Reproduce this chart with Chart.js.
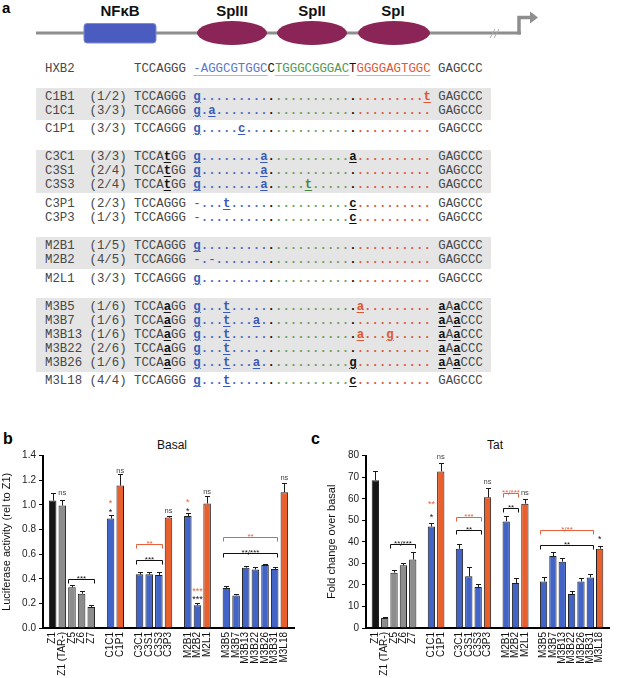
<!DOCTYPE html>
<html><head><meta charset="utf-8">
<title>LTR variants</title>
<script src="https://cdn.jsdelivr.net/npm/chart.js@4.4.1/dist/chart.umd.min.js"></script>
<style>
html,body{margin:0;padding:0;background:#fff;}
#page{position:relative;width:625px;height:678px;overflow:hidden;font-family:"Liberation Sans",Arial,Helvetica,sans-serif;}
.box{position:absolute;left:36px;width:455px;background:#e5e5e5;}
.row{position:absolute;left:45px;height:14px;font-family:"Liberation Mono","Courier New",monospace;font-size:12.37px;line-height:14px;white-space:pre;color:#474747;}
.row b{font-weight:bold;text-decoration:underline;text-underline-offset:2px;text-decoration-thickness:1px;}
.row i{font-style:normal;font-weight:bold;}
.cb{color:#3a5ab8}.cg{color:#468a40}.cr{color:#dc5632}.ck{color:#111}
.db{color:#4a69c4}.dg{color:#6a9e5c}.dr{color:#e0583a}.dk{color:#111}
.hb{color:#5a78cc;text-decoration:underline;text-decoration-color:#a8b6e2;text-underline-offset:3px}
.hg{color:#4f9a4f;text-decoration:underline;text-decoration-color:#a9cfa4;text-underline-offset:3px}
.hr{color:#e0583a;text-decoration:underline;text-decoration-color:#f0ab98;text-underline-offset:3px}
.lbl{position:absolute;font-weight:bold;font-size:16px;line-height:16px;color:#000}
.ttl{position:absolute;font-size:12px;line-height:14px;color:#111;transform:translateX(-50%);white-space:nowrap}
canvas{position:absolute}
</style>
</head>
<body>
<div id="page">
<svg width="625" height="50" style="position:absolute;left:0;top:0" xmlns="http://www.w3.org/2000/svg">
  <text x="2" y="13" font-family="Liberation Sans, Arial" font-weight="bold" font-size="15">a</text>
  <line x1="36" y1="33" x2="521" y2="33" stroke="#8e8e8e" stroke-width="3"/>
  <rect x="84" y="23.5" width="72" height="19.5" rx="3" fill="#4a5cbf" stroke="#7b8ad8" stroke-width="1"/>
  <ellipse cx="232" cy="33" rx="35" ry="12" fill="#8b2457"/>
  <ellipse cx="312" cy="33" rx="35" ry="12" fill="#8b2457"/>
  <ellipse cx="394" cy="33" rx="36" ry="12" fill="#8b2457"/>
  <line x1="490" y1="38" x2="495" y2="29" stroke="#a8a8a8" stroke-width="1"/>
  <line x1="494" y1="38" x2="499" y2="29" stroke="#a8a8a8" stroke-width="1"/>
  <path d="M519 34.5 V17.5 H531" stroke="#8e8e8e" stroke-width="3.5" fill="none"/>
  <polygon points="530,11.5 538,17.5 530,23.5" fill="#8e8e8e"/>
  <g font-family="Liberation Sans, Arial" font-weight="bold" font-size="15" text-anchor="middle" fill="#111">
    <text x="120" y="15.5">NFκB</text>
    <text x="232" y="15.5">SpIII</text>
    <text x="312" y="15.5">SpII</text>
    <text x="393" y="15.5">SpI</text>
  </g>
</svg>
<div id="align"></div>

<div class="lbl" style="left:3px;top:431px">b</div>
<div class="lbl" style="left:311px;top:431px">c</div>
<div class="ttl" style="left:172px;top:438px">Basal</div>
<div class="ttl" style="left:495px;top:438px">Tat</div>

<canvas id="chartB" width="310" height="248" style="left:0;top:430px"></canvas>
<canvas id="chartC" width="315" height="248" style="left:310px;top:430px"></canvas>
</div>

<script>
// ---------------- Panel a: alignment data ----------------
const refName = "HXB2";
const refPrefix = "TCCAGGG";
const refSegments = ["-AGGCGTGGC", "C", "TGGGCGGGAC", "T", "GGGGAGTGGC"];
const refSuffix = "GAGCCC";

const alignNames  = ["C1B1","C1C1","C1P1","C3C1","C3S1","C3S3","C3P1","C3P3","M2B1","M2B2","M2L1","M3B5","M3B7","M3B13","M3B22","M3B26","M3L18"];
const alignCounts = ["(1/2)","(3/3)","(3/3)","(3/3)","(2/4)","(2/4)","(2/3)","(1/3)","(1/5)","(4/5)","(3/3)","(1/6)","(1/6)","(1/6)","(2/6)","(1/6)","(4/4)"];
const alignPrefix = ["TCCAGGG","TCCAGGG","TCCAGGG","TCCAtGG","TCCAtGG","TCCAtGG","TCCAGGG","TCCAGGG","TCCAGGG","TCCAGGG","TCCAGGG","TCCAaGG","TCCAaGG","TCCAaGG","TCCAaGG","TCCAaGG","TCCAGGG"];
// substitutions in the 32-nt Sp/NF-kB stretch: [position, base]
const alignChanges = [
  [[0,"g"],[31,"t"]],
  [[0,"g"],[2,"a"]],
  [[0,"g"],[6,"c"]],
  [[0,"g"],[9,"a"],[21,"a"]],
  [[0,"g"],[9,"a"]],
  [[0,"g"],[9,"a"],[15,"t"]],
  [[0,"-"],[4,"t"],[21,"c"]],
  [[0,"-"],[21,"c"]],
  [[0,"g"]],
  [[0,"-"],[2,"-"]],
  [[0,"g"]],
  [[0,"g"],[4,"t"],[22,"a"]],
  [[0,"g"],[4,"t"],[8,"a"]],
  [[0,"g"],[4,"t"],[22,"a"],[26,"g"]],
  [[0,"g"],[4,"t"]],
  [[0,"g"],[4,"t"],[8,"a"],[21,"g"]],
  [[0,"g"],[4,"t"],[21,"c"]]
];
const alignSuffix = ["GAGCCC","GAGCCC","GAGCCC","GAGCCC","GAGCCC","GAGCCC","GAGCCC","GAGCCC","GAGCCC","GAGCCC","GAGCCC","aAaCCC","aAaCCC","aAaCCC","aAaCCC","aAaCCC","GAGCCC"];

// layout of panel a (pixel centres of rows, shaded blocks)
const refRowY = 68.5;
const rowY = [96.5,110.5,128.5,157,171,185,203.5,217.5,246,260,278.5,306.5,320.5,334.5,348.5,362.5,381];
const shade = [[88.3,120],[149.7,193],[237.3,269],[297.7,371.7]];

(function buildAlignment(){
  const host = document.getElementById("align");
  let html = "";
  shade.forEach(([t,b]) => { html += `<div class="box" style="top:${t}px;height:${b-t}px"></div>`; });
  const esc = s => s.replace(/&/g,"&amp;").replace(/</g,"&lt;");
  const lowerBold = s => s.split("").map(c => /[a-z]/.test(c) ? `<b class="ck">${c}</b>` : esc(c)).join("");
  html += `<div class="row" style="top:${refRowY-7}px">${refName.padEnd(12," ")}${refPrefix} ` +
    `<span class="hb">${refSegments[0]}</span><span class="ck">${refSegments[1]}</span>` +
    `<span class="hg">${refSegments[2]}</span><span class="ck">${refSegments[3]}</span>` +
    `<span class="hr">${refSegments[4]}</span> ${refSuffix}</div>`;
  const region = p => p < 10 ? "b" : p === 10 ? "k" : p < 21 ? "g" : p === 21 ? "k" : "r";
  alignNames.forEach((nm, i) => {
    const ch = {};
    alignChanges[i].forEach(([p, b]) => { ch[p] = b; });
    let core = "";
    for (let p = 0; p < 32; p++) {
      const r = region(p);
      if (ch[p] === undefined) core += `<i class="d${r}">.</i>`;
      else if (ch[p] === "-") core += `<span class="c${r}">-</span>`;
      else core += `<b class="c${r}">${ch[p]}</b>`;
    }
    html += `<div class="row" style="top:${rowY[i]-7}px">${nm.padEnd(6," ")}${alignCounts[i]} ${lowerBold(alignPrefix[i])} ${core} ${lowerBold(alignSuffix[i])}</div>`;
  });
  host.innerHTML = html;
})();

// ---------------- Panels b, c: bar data ----------------
const categories = ["Z1","Z1 (TAR-)","Z5","Z6","Z7","C1C1","C1P1","C3C1","C3S1","C3S3","C3P3","M2B1","M2B2","M2L1","M3B5","M3B7","M3B13","M3B22","M3B26","M3B31","M3L18"];
const groupSizes = [5,2,4,3,7];

const basalValues = [1.035,0.995,0.331,0.279,0.170,0.890,1.157,0.436,0.436,0.431,0.897,0.910,0.185,1.012,0.325,0.265,0.490,0.475,0.511,0.480,1.103];
const basalErrors = [0.062,0.046,0.016,0.018,0.018,0.025,0.093,0.018,0.018,0.020,0.011,0.026,0.020,0.062,0.016,0.010,0.010,0.020,0.012,0.015,0.077];

const tatValues = [68.6,4.7,25.7,29.1,31.8,47.1,72.7,36.8,24.0,19.0,60.7,49.5,20.9,57.7,21.6,33.4,30.8,15.8,21.6,23.5,36.8];
const tatErrors = [4.5,0.3,1.3,1.2,3.6,1.6,4.1,2.2,4.4,1.2,4.5,2.7,2.1,2.0,1.9,1.8,1.8,1.2,1.6,1.8,1.4];

const basalTicks = [0.0,0.2,0.4,0.6,0.8,1.0,1.2,1.4];
const tatTicks = [0,10,20,30,40,50,60,70,80];

const basalBrackets = [
  {from:"Z5",   to:"Z7",    y:0.396, text:"***",    red:false},
  {from:"C3C1", to:"C3S3",  y:0.556, text:"***",    red:false},
  {from:"C3C1", to:"C3S3",  y:0.686, text:"**",     red:true},
  {from:"M3B5", to:"M3B31", y:0.610, text:"**/***", red:false},
  {from:"M3B5", to:"M3B31", y:0.740, text:"**",     red:true}
];
const basalMarks = [
  {at:"Z1 (TAR-)", y:1.095, text:"ns",  red:false},
  {at:"C1C1",      y:0.955, text:"*",   red:false},
  {at:"C1C1",      y:1.027, text:"*",   red:true},
  {at:"C1P1",      y:1.279, text:"ns",  red:false},
  {at:"C3P3",      y:0.954, text:"ns",  red:false},
  {at:"M2B1",      y:0.965, text:"*",   red:false},
  {at:"M2B1",      y:1.035, text:"*",   red:true},
  {at:"M2B2",      y:0.246, text:"***", red:false},
  {at:"M2B2",      y:0.315, text:"***", red:true},
  {at:"M2L1",      y:1.108, text:"ns",  red:false},
  {at:"M3L18",     y:1.217, text:"ns",  red:false}
];
const tatBrackets = [
  {from:"Z5",   to:"Z7",    y:39.1, text:"**/***", red:false},
  {from:"C3C1", to:"C3S3",  y:45.3, text:"**",     red:false},
  {from:"C3C1", to:"C3S3",  y:51.5, text:"***",    red:true},
  {from:"M2B1", to:"M2B2",  y:55.9, text:"**",     red:false},
  {from:"M2B1", to:"M2B2",  y:62.9, text:"**/***", red:true},
  {from:"M3B5", to:"M3B31", y:38.6, text:"**",     red:false},
  {from:"M3B5", to:"M3B31", y:45.6, text:"*/**",   red:true}
];
const tatMarks = [
  {at:"C1C1",  y:52.0, text:"*",  red:false},
  {at:"C1C1",  y:58.4, text:"**", red:true},
  {at:"C1P1",  y:79.6, text:"ns", red:false},
  {at:"C3P3",  y:67.7, text:"ns", red:false},
  {at:"M2L1",  y:62.6, text:"ns", red:false},
  {at:"M3L18", y:42.2, text:"*",  red:false}
];

// ---------------- chart construction ----------------
const COL = {black:"#151515", grey:"#8d8d8d", blue:"#4164c6", orange:"#e8602d", red:"#e8603c"};
function barColor(name){
  if (name === "Z1") return COL.black;
  if (name.startsWith("Z")) return COL.grey;
  if (/(P|L)\d+$/.test(name)) return COL.orange;
  return COL.blue;
}
// category axis with blank slots between groups
function padded(arr){
  const labels = [""], vals = [null];
  let k = 0;
  groupSizes.forEach(n => {
    for (let i = 0; i < n; i++) { labels.push(categories[k]); vals.push(arr[k]); k++; }
    labels.push(""); vals.push(null);
  });
  return {labels, vals};
}

const annotPlugin = {
  id: "annot",
  afterDatasetsDraw(chart, args, opts) {
    const ctx = chart.ctx, ys = chart.scales.y;
    const meta = chart.getDatasetMeta(0);
    const data = chart.data.datasets[0].data;
    const errs = opts.errors;
    const labels = chart.data.labels;
    ctx.save();
    ctx.strokeStyle = "#1a1a1a"; ctx.lineWidth = 1;
    meta.data.forEach((el, i) => {
      if (data[i] == null || errs[i] == null) return;
      const x = Math.round(el.x) + 0.5;
      const yb = ys.getPixelForValue(data[i]);
      const yt = Math.round(ys.getPixelForValue(data[i] + errs[i])) + 0.5;
      ctx.beginPath();
      ctx.moveTo(x, yb); ctx.lineTo(x, yt);
      ctx.moveTo(x - 2.5, yt); ctx.lineTo(x + 2.5, yt);
      ctx.stroke();
    });
    ctx.textAlign = "center";
    opts.brackets.forEach(b => {
      const e1 = meta.data[labels.indexOf(b.from)], e2 = meta.data[labels.indexOf(b.to)];
      const x1 = Math.round(e1.x - e1.width / 2) + 0.5, x2 = Math.round(e2.x + e2.width / 2) - 0.5;
      const yy = Math.round(ys.getPixelForValue(b.y)) + 0.5;
      const c = b.red ? COL.red : "#111";
      ctx.strokeStyle = c; ctx.fillStyle = c; ctx.lineWidth = 1;
      ctx.beginPath();
      ctx.moveTo(x1, yy + 4); ctx.lineTo(x1, yy); ctx.lineTo(x2, yy); ctx.lineTo(x2, yy + 4);
      ctx.stroke();
      ctx.font = "8px 'Liberation Sans', Arial";
      ctx.textBaseline = "alphabetic";
      ctx.fillText(b.text, (x1 + x2) / 2, yy + 1);
    });
    opts.marks.forEach(m => {
      const el = meta.data[labels.indexOf(m.at)];
      const star = m.text.includes("*");
      ctx.fillStyle = m.red ? COL.red : (star ? "#111" : "#444");
      ctx.font = star ? "9px 'Liberation Sans', Arial" : "7.5px 'Liberation Sans', Arial";
      ctx.textBaseline = "middle";
      ctx.fillText(m.text, el.x, ys.getPixelForValue(m.y) + (star ? 2 : 0));
    });
    ctx.restore();
  }
};

function makeChart(id, values, errors, ticks, brackets, marks, yTitle, titlePad, axisWidth, padRight, fmt) {
  const p = padded(values);
  const pe = padded(errors).vals;
  const cols = p.labels.map(l => l ? barColor(l) : "#000");
  return new Chart(document.getElementById(id), {
    type: "bar",
    data: {
      labels: p.labels,
      datasets: [{
        data: p.vals,
        backgroundColor: cols,
        borderColor: "#1e1e1e",
        borderWidth: 1,
        borderSkipped: "bottom",
        barPercentage: 0.78,
        categoryPercentage: 1
      }]
    },
    options: {
      responsive: false,
      animation: false,
      devicePixelRatio: 1,
      layout: {padding: {top: 25.7, right: padRight, left: 0, bottom: 0}},
      plugins: {
        legend: {display: false},
        tooltip: {enabled: false},
        title: {display: false},
        annot: {errors: pe, brackets: brackets, marks: marks}
      },
      scales: {
        x: {
          type: "category",
          offset: false,
          grid: {display: false, drawTicks: false},
          border: {display: true, color: "#000", width: 2},
          ticks: {autoSkip: false, maxRotation: 90, minRotation: 90, padding: 4,
                  color: "#111", font: {family: "'Liberation Sans', Arial", size: 10}},
          afterFit: s => { s.height = 50; }
        },
        y: {
          min: ticks[0], max: ticks[ticks.length - 1],
          afterBuildTicks: s => { s.ticks = ticks.map(v => ({value: v})); },
          grid: {display: true, drawOnChartArea: false, drawTicks: true, tickLength: 4, color: "#000", lineWidth: 1},
          border: {display: true, color: "#000", width: 2},
          ticks: {padding: 3, color: "#222", font: {family: "'Liberation Sans', Arial", size: 10}, callback: fmt},
          title: {display: true, text: yTitle, color: "#111", font: {family: "'Liberation Sans', Arial", size: 11},
                  padding: {top: titlePad, bottom: 0}},
          afterFit: s => { s.width = axisWidth; }
        }
      }
    },
    plugins: [annotPlugin]
  });
}

makeChart("chartB", basalValues, basalErrors, basalTicks, basalBrackets, basalMarks,
  "Luciferase activity (rel to Z1)", 0, 43, 10, v => Number(v).toFixed(1));
makeChart("chartC", tatValues, tatErrors, tatTicks, tatBrackets, tatMarks,
  "Fold change over basal", 15, 56, 2, v => String(v));
</script>
</body></html>
